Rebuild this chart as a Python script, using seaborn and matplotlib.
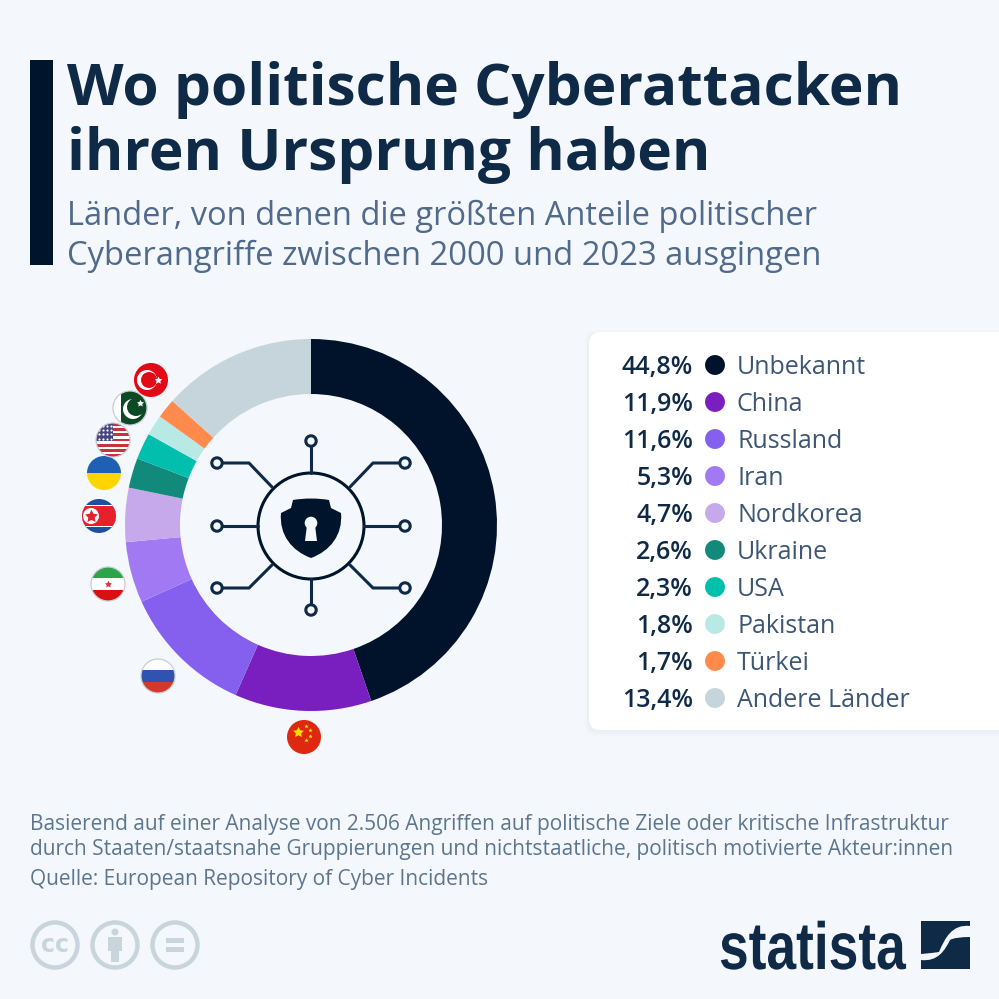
import matplotlib
matplotlib.use('Agg')
import matplotlib.pyplot as plt
from matplotlib.patches import Circle, Rectangle, Polygon, FancyBboxPatch, PathPatch
from matplotlib.path import Path
from matplotlib.patheffects import AbstractPathEffect
from matplotlib.transforms import Affine2D
import seaborn as sns
import pandas as pd

# Data
countries = ['Unbekannt', 'China', 'Russland', 'Iran', 'Nordkorea', 'Ukraine',
             'USA', 'Pakistan', 'Türkei', 'Andere Länder']
shares = [44.8, 11.9, 11.6, 5.3, 4.7, 2.6, 2.3, 1.8, 1.7, 13.4]
colors = ['#00132B', '#7A1FBF', '#8560EE', '#A17AF3', '#C6A9EA', '#128A7B',
          '#00BFAD', '#B9E9E5', '#FF8A4B', '#C6D4DC']

BG = '#F4F7FB'
NAVY = '#0F2A47'
DARK = '#00152B'
GREY = '#C8D5DD'


class SqueezeX(AbstractPathEffect):
    """Narrow a text horizontally around a display x position."""

    def __init__(self, factor, x0):
        super().__init__()
        self.factor = factor
        self.x0 = x0

    def draw_path(self, renderer, gc, tpath, affine, rgbFace=None):
        squeeze = Affine2D().translate(-self.x0, 0).scale(self.factor, 1).translate(self.x0, 0)
        renderer.draw_path(gc, tpath, affine + squeeze, rgbFace)


sns.set_theme(style='white')
plt.rcParams['font.family'] = ['Open Sans', 'DejaVu Sans']

fig = plt.figure(figsize=(9.99, 9.99), dpi=100, facecolor=BG)
ax = fig.add_axes([0, 0, 1, 1])
ax.set_xlim(0, 999)
ax.set_ylim(999, 0)
ax.axis('off')

# Header
ax.add_patch(Rectangle((30, 60), 23, 205, color=DARK, lw=0))
ax.text(67, 105, 'Wo politische Cyberattacken', fontsize=42.1, fontweight='bold',
        color=NAVY, va='baseline')
ax.text(67, 170, 'ihren Ursprung haben', fontsize=42.1, fontweight='bold',
        color=NAVY, va='baseline')
ax.text(67, 216, 'Länder, von denen die größten Anteile politischer', fontsize=23.5,
        color='#4F6A8A', va='center')
ax.text(67, 256, 'Cyberangriffe zwischen 2000 und 2023 ausgingen', fontsize=23.55,
        color='#4F6A8A', va='center')

# Donut, center (311, 525) radius 186 in pixels
cx, cy, r = 311, 525, 186
pie_ax = fig.add_axes([(cx - r) / 999, 1 - (cy + r) / 999, 2 * r / 999, 2 * r / 999])
pie_ax.pie(shares, colors=colors, startangle=90, counterclock=False, radius=1,
           wedgeprops={'width': 55 / 186, 'linewidth': 0})
pie_ax.set_xlim(-1, 1)
pie_ax.set_ylim(-1, 1)
pie_ax.set_zorder(1)
pie_ax.patch.set_alpha(0)

# Center icon
line_kw = dict(color=NAVY, lw=2.2, solid_capstyle='round', solid_joinstyle='round', zorder=2)
ax.set_zorder(2)
ax.patch.set_alpha(0)
ax.add_patch(Circle((311, 526), 53, fc='none', ec=DARK, lw=2.2))
for sx in (-1, 1):
    ax.plot([311 + sx * 53, 311 + sx * 94], [526, 526], **line_kw)
    ax.plot([311 + sx * 94, 311 + sx * 62, 311 + sx * 39], [463, 463, 487], **line_kw)
    ax.plot([311 + sx * 94, 311 + sx * 62, 311 + sx * 39], [588, 588, 565], **line_kw)
ax.plot([311, 311], [473, 441], **line_kw)
ax.plot([311, 311], [579, 610], **line_kw)
for nx, ny in [(217, 463), (217, 526), (217, 588), (405, 463), (405, 526), (405, 588),
               (311, 441), (311, 610)]:
    ax.add_patch(Circle((nx, ny), 5.2, fc=BG, ec=NAVY, lw=2.2, zorder=3))

shield_verts = [(293, 500), (305, 498), (317, 498), (329, 500),
                (331, 508), (341, 513),
                (343, 535), (330, 551), (311, 558),
                (292, 551), (279, 535), (281, 513),
                (291, 508), (293, 500), (293, 500)]
shield_codes = [Path.MOVETO, Path.CURVE4, Path.CURVE4, Path.CURVE4,
                Path.LINETO, Path.LINETO,
                Path.CURVE4, Path.CURVE4, Path.CURVE4,
                Path.CURVE4, Path.CURVE4, Path.CURVE4,
                Path.LINETO, Path.LINETO, Path.CLOSEPOLY]
ax.add_patch(PathPatch(Path(shield_verts, shield_codes), fc=DARK, ec='none'))
ax.add_patch(Circle((311, 523), 6.3, fc=BG, ec='none', zorder=3))
ax.add_patch(Polygon([(307, 525), (315, 525), (317, 541), (305, 541)], fc=BG, ec='none', zorder=3))


# Flags
def band(x, y, y0, y1, color, x0=-17, x1=17, z=4):
    p = Rectangle((x + x0, y + y0), x1 - x0, y1 - y0, fc=color, ec='none', zorder=z)
    ax.add_patch(p)
    p.set_clip_path(Circle((x, y), 17, transform=ax.transData))


def star(x, y, size, color='white', z=6):
    ax.scatter([x], [y], marker=(5, 1), s=size, c=color, linewidths=0, zorder=z)


def disc(x, y, rad, color, z=5):
    ax.add_patch(Circle((x, y), rad, fc=color, ec='none', zorder=z))


def rim(x, y, z=7):
    ax.add_patch(Circle((x, y), 17, fc='none', ec='#C9CDD2', lw=0.9, zorder=z))


# Pakistan
x, y = 130, 408
band(x, y, -17, 17, 'white')
band(x, y, -17, 17, '#0B4A24', x0=-9)
disc(x + 3, y + 1, 10, 'white')
disc(x + 6, y - 1, 9, '#0B4A24')
star(x + 10, y - 5, 28)
rim(x, y)

# Turkey
x, y = 151, 380
band(x, y, -17, 17, '#E30A17', z=8)
disc(x - 4, y, 10, 'white', z=9)
disc(x - 2, y, 8, '#E30A17', z=9)
star(x + 7, y, 32, z=9)

# USA
x, y = 113, 440
band(x, y, -17, 17, 'white')
for k in range(0, 13, 2):
    band(x, y, -17 + k * 34 / 13, -17 + (k + 1) * 34 / 13, '#C8313E')
band(x, y, -17, 1, '#46467F', x1=0, z=5)
for i in range(4):
    for j in range(4):
        ax.scatter([x - 14 + i * 4], [y - 14 + j * 4.2], s=2.5, c='white', linewidths=0, zorder=6)
rim(x, y)

# Ukraine
x, y = 104, 473
band(x, y, -17, 0, '#1F5FB4')
band(x, y, 0, 17, '#FFD500')

# North Korea
x, y = 99, 516
band(x, y, -17, 17, '#1B4FA0')
band(x, y, -11, 11, 'white', z=5)
band(x, y, -10, 10, '#E8202C', z=5)
disc(x - 8, y, 8, 'white', z=6)
star(x - 8, y, 95, '#E8202C', z=7)

# Iran
x, y = 108, 584
band(x, y, -17, -6, '#2DA44A')
band(x, y, -6, 6, 'white')
band(x, y, 6, 17, '#DA0F12')
star(x, y, 28, '#D8343A')
rim(x, y)

# Russia
x, y = 158, 676
band(x, y, -17, -6, 'white')
band(x, y, -6, 6, '#2F54B0')
band(x, y, 6, 17, '#D5362E')
rim(x, y)

# China
x, y = 304, 737
band(x, y, -17, 17, '#DE2910')
star(x - 6, y - 5, 65, '#FFDE00')
for ox, oy in [(2, -11), (6, -7), (6, -1), (2, 3)]:
    star(x + ox, y + oy, 9, '#FFDE00')

# Legend panel
for grow, alpha in [(4, 0.012), (2, 0.02)]:
    ax.add_patch(FancyBboxPatch((589 - grow, 332 - grow + 2), 450 + 2 * grow, 398 + 2 * grow,
                                boxstyle='round,pad=0,rounding_size=12', fc=NAVY, ec='none',
                                alpha=alpha, zorder=1))
ax.add_patch(FancyBboxPatch((589, 332), 450, 398, boxstyle='round,pad=0,rounding_size=12',
                            fc='white', ec='none', zorder=1.5))

legend_df = pd.DataFrame({'country': countries,
                          'x': [715] * len(countries),
                          'y': [365 + i * 37 for i in range(len(countries))]})
sns.scatterplot(data=legend_df, x='x', y='y', hue='country', palette=colors, s=205,
                linewidth=0, legend=False, ax=ax, zorder=3)
ax.set_xlim(0, 999)
ax.set_ylim(999, 0)
for name, share, ly in zip(countries, shares, legend_df['y']):
    label = f'{share:.1f}%'.replace('.', ',')
    ax.text(693, ly + 9, label, ha='right', va='baseline', fontsize=18, fontweight='semibold',
            color=NAVY, zorder=4)
    ax.text(737, ly + 9, name, ha='left', va='baseline', fontsize=18, color='#3D5675', zorder=4)

# Footer
foot_kw = dict(fontsize=15, color='#5C7690', va='baseline')
ax.text(30, 830, 'Basierend auf einer Analyse von 2.506 Angriffen auf politische Ziele oder kritische Infrastruktur', **foot_kw)
ax.text(30, 855, 'durch Staaten/staatsnahe Gruppierungen und nichtstaatliche, politisch motivierte Akteur:innen', **foot_kw)
ax.text(30, 885, 'Quelle: European Repository of Cyber Incidents', **foot_kw)

# Licence icons
for ix in (55, 115, 175):
    ax.add_patch(Circle((ix, 945), 22.5, fc='none', ec=GREY, lw=3.2))
ax.text(55, 945, 'cc', fontsize=17, fontweight='bold', color=GREY, ha='center', va='center',
        family='DejaVu Sans')
ax.add_patch(Circle((115, 932), 3.5, fc=GREY, ec='none'))
ax.add_patch(Rectangle((108, 937), 14, 14, fc=GREY, ec='none'))
ax.add_patch(Rectangle((111, 950), 8, 12, fc=GREY, ec='none'))
ax.add_patch(Rectangle((166, 938), 18, 5, fc=GREY, ec='none'))
ax.add_patch(Rectangle((166, 947), 18, 5, fc=GREY, ec='none'))

# Statista logo
logo = ax.text(719, 969, 'statista', fontsize=48, fontweight='bold', color=NAVY, ha='left',
               va='baseline', family='Liberation Sans')
logo.set_path_effects([SqueezeX(0.8, 719)])
ax.add_patch(Rectangle((921, 921), 49, 48, fc=NAVY, ec='none'))
s_verts = [(970, 926), (952, 924), (945, 938), (939, 952), (933, 953), (921, 954),
           (921, 960), (938, 962), (945, 950), (950, 940), (955, 937), (970, 937), (970, 926)]
s_codes = [Path.MOVETO, Path.CURVE4, Path.CURVE4, Path.CURVE4, Path.CURVE3, Path.CURVE3,
           Path.LINETO, Path.CURVE4, Path.CURVE4, Path.CURVE4, Path.CURVE3, Path.CURVE3,
           Path.CLOSEPOLY]
ax.add_patch(PathPatch(Path(s_verts, s_codes), fc=BG, ec='none'))

fig.savefig('out.png', dpi=100, facecolor=BG)
